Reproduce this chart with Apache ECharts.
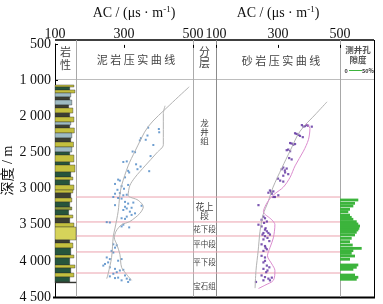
<!DOCTYPE html>
<html>
<head>
<meta charset="utf-8">
<script src="https://cdn.jsdelivr.net/npm/echarts@6/dist/echarts.min.js"></script>
<style>
html,body{margin:0;padding:0;background:#fff}
#chart{width:383px;height:304px}
</style>
</head>
<body>
<div id="chart"></div>
<script>
// depth tick labels as printed in the figure
var depthTicks = ['500', '1 000', '2 000', '2 500', '3 000', '3 500', '4 000', '4 500'];
var acTicks = [100, 300, 500];

// lithology column: layer boundaries (m), rock type, grain size (column width share)
var litDepth = [1567,1595,1636,1678,1733,1775,1844,1885,1955,2010,2079,2121,2162,2231,2300,2356,2425,2494,2536,2632,2674,2771,2840,2881,2951,3020,3061,3130,3186,3255,3296,3366,3407,3476,3532,3711,3753,3822,3919,3960,4057,4099,4168,4223,4292,4306];
var litType = [0,1,0,2,3,2,3,0,3,0,2,3,0,2,3,0,2,1,0,1,0,1,0,1,0,0,3,0,1,4,1,0,3,0,5,3,0,1,0,1,0,1,0,1,3];
var litSize = [0.9,0.7,0.95,0.75,0.7,0.8,0.65,0.85,0.7,0.9,0.75,0.7,0.92,0.8,0.75,0.88,0.8,0.7,0.9,0.7,0.95,0.75,0.85,0.7,0.9,0.85,0.75,0.8,0.7,0.8,0.65,0.85,0.7,0.9,1.0,0.7,0.85,0.75,0.9,0.7,0.95,0.75,0.9,0.7,1.0];
var litColors = ['#c4c03e', '#26553c', '#9dbac2', '#3c3f32', '#8f9b3c', '#d6d35a'];

// formation boundaries (m)
var boundaries = [3117, 3462, 3656, 3877, 4168];

// mudstone AC (us/m) vs depth (m)
var mudPoints = [
  [370,2111],[401,2130],[402,2176],[368,2222],[349,2259],[346,2291],[363,2282],[385,2356],[325,2448],[332,2457],
  [377,2512],[298,2595],[308,2587],[335,2628],[348,2660],[312,2720],[315,2743],[339,2697],[373,2725],[283,2844],
  [288,2858],[303,2812],[274,2905],[293,2937],[300,2974],[312,2919],[281,2988],[269,3089],[293,3112],[274,3043],
  [288,3034],[298,3065],[308,3057],[283,3103],[303,3158],[312,3182],[327,3168],[274,3204],[303,3227],[308,3251],
  [322,3241],[351,3213],[298,3273],[317,3296],[332,3320],[308,3366],[322,3342],[293,3389],[303,3398],[250,3444],
  [259,3449],[298,3480],[293,3504],[315,3518],[269,3757],[279,3771],[274,3804],[264,3850],[269,3873],[250,3942],
  [259,3965],[254,4012],[245,4034],[240,4057],[293,3965],[283,3988],[259,4081],[274,4103],[279,4150],[288,4126],
  [298,4117],[269,4172],[259,4209],[274,4233],[283,4227],[293,4265],[303,4196],[308,4241],[317,4255],[312,4288]
];
var mudTrend = [[489,1535],[433,1789],[370,2097],[332,2443],[312,2650],[293,2927],[288,3061],[283,3296],[274,3527],[269,3642],[264,3942],[254,4172],[250,4241]];
var mudEnvelope = [[419,1802],[414,1913],[414,2352],[395,2466],[361,2650],[332,2812],[317,2927],[312,3065],[341,3135],[356,3227],[346,3320],[317,3435],[293,3480],[277,3573],[272,3666],[279,3757],[288,3896],[293,4081],[306,4172],[322,4265]];

// sandstone AC (us/m) vs depth (m)
var sandPoints = [
  [377,2075],[387,2089],[393,2075],[382,2097],[397,2083],[409,2097],[355,2190],[366,2213],[371,2227],[380,2245],
  [360,2200],[339,2328],[349,2352],[355,2342],[344,2335],[328,2429],[339,2443],[333,2420],[344,2559],[336,2540],
  [317,2674],[328,2688],[312,2697],[323,2743],[333,2767],[317,2789],[322,2715],[307,2858],[317,2872],[300,2830],
  [274,2997],[285,3010],[269,3029],[280,3043],[290,3089],[301,3065],[285,3089],[278,3015],[237,3204],[253,3366],
  [258,3389],[247,3411],[264,3435],[237,3480],[247,3504],[255,3455],[258,3550],[264,3573],[269,3597],[253,3597],
  [274,3619],[258,3642],[266,3666],[253,3688],[272,3711],[260,3530],[250,3620],[247,3757],[258,3781],[264,3827],
  [253,3850],[260,3805],[247,3919],[258,3942],[253,4012],[264,4057],[272,4081],[253,4103],[266,4126],[258,3990],
  [247,4196],[258,4219],[269,4241],[274,4265],[253,4265],[280,4227],[229,4288],[262,4150]
];
var sandTrend = [[458,1747],[423,1913],[371,2162],[339,2439],[313,2674],[284,2951],[268,3158],[252,3338],[242,3573],[236,3850],[229,4126],[226,4375]];
var sandEnvelope = [[390,2051],[403,2121],[398,2282],[382,2443],[355,2650],[339,2812],[317,2951],[290,3043],[274,3112],[261,3200],[253,3296],[280,3411],[290,3480],[285,3666],[274,3804],[266,3919],[280,4034],[290,4126],[285,4265],[258,4334],[237,4380]];

// log porosity (%)
var poroDepth = [3158,3204,3241,3287,3320,3366,3398,3425,3458,3490,3518,3550,3573,3605,3642,3688,3735,3781,3827,3859,3896,3933,3978,4057,4089,4117,4196,4227,4255];
var poroValue = [26.9,22.1,19.6,14.7,12.2,14.7,17.2,19.6,24.6,26.9,29.4,28.4,26.9,24.6,22.1,17.2,14.7,18.7,31.9,19.6,17.2,22.1,14.7,26.9,24.6,19.6,22.1,26.9,24.6];

var SERIF = '"Liberation Serif","Noto Sans CJK SC",serif';
var CJK = '"Noto Sans CJK SC",sans-serif';

var myChart = echarts.init(document.getElementById('chart'));

function depthAxis(idx, visible) {
  var ax = {gridIndex: idx, type: 'value', min: 1000, max: 4500, interval: 500, inverse: true, show: visible};
  if (visible) {
    ax.axisLine = {show: true, lineStyle: {color: '#000', width: 1}};
    ax.axisTick = {show: true, inside: true, length: 3, lineStyle: {color: '#000'}};
    ax.axisLabel = {
      margin: 4, fontFamily: SERIF, fontSize: 14, color: '#111',
      formatter: function (v) { return depthTicks[Math.round((v - 1000) / 500)]; }
    };
    ax.splitLine = {show: false};
    ax.name = '深度 / m';
    ax.nameLocation = 'middle';
    ax.nameGap = 37;
    ax.nameTextStyle = {fontFamily: SERIF, fontSize: 14, color: '#111'};
  }
  return ax;
}

function acAxis(idx, shift) {
  return {
    gridIndex: idx, type: 'value', position: 'top', offset: 4,
    min: acTicks[0], max: acTicks[2], interval: acTicks[1] - acTicks[0],
    axisLine: {show: false},
    axisTick: {show: true, inside: true, length: 3, lineStyle: {color: '#000'}},
    axisLabel: {margin: 4, fontFamily: SERIF, fontSize: 14, color: '#111'},
    splitLine: {show: false},
    name: '{t|AC / (μs · m}{s|-1}{t|)}',
    nameLocation: 'middle', nameGap: 21,
    nameTextStyle: {
      padding: [0, 0, 0, shift],
      rich: {
        t: {fontFamily: SERIF, fontSize: 14, color: '#111', lineHeight: 16},
        s: {fontFamily: SERIF, fontSize: 9, color: '#111', verticalAlign: 'top', lineHeight: 16, padding: [0, 0, 8, 0]}
      }
    }
  };
}

function gl(x1, y1, x2, y2, color, w) {
  return {type: 'line', silent: true, shape: {x1: x1, y1: y1, x2: x2, y2: y2}, style: {stroke: color, lineWidth: w}};
}
function gt(x, y, text, size, color, weight) {
  return {type: 'text', silent: true, x: x, y: y, style: {text: text, fontSize: size, fontFamily: CJK, fontWeight: weight || 'normal', fill: color || '#444', align: 'center', verticalAlign: 'middle'}};
}

var graphics = [
  gl(55, 40, 374, 40, '#000', 1.5),
  gl(374.5, 40, 374.5, 297, '#000', 1),
  gl(53, 297.5, 375, 297.5, '#000', 2),
  gl(55, 79.5, 374, 79.5, '#bdbdbd', 1),
  gl(76.5, 40, 76.5, 297, '#a8a8a8', 1),
  gl(193.5, 40, 193.5, 297, '#ababab', 1),
  gl(216.5, 40, 216.5, 297, '#8c8c8c', 1),
  gl(340.5, 40, 340.5, 297, '#a8a8a8', 1),
  gt(65.5, 52, '岩', 11), gt(65.5, 65, '性', 11),
  gt(136, 60, '泥 岩 压 实 曲 线', 11),
  gt(204.5, 51.5, '分', 11), gt(204.5, 63, '层', 11),
  gt(281, 61, '砂 岩 压 实 曲 线', 11),
  gt(358, 50, '测井孔', 8.5, '#555', 'bold'), gt(358, 59.5, '隙度', 8.5, '#555', 'bold'),
  gt(346, 70.5, '0', 5.5, '#333', 'bold'),
  gl(349, 70.5, 362, 70.5, '#3cb43c', 1),
  gt(368, 70.5, '50%', 5.5, '#333', 'bold'),
  gt(204.5, 123, '龙', 8.5), gt(204.5, 132, '井', 8.5), gt(204.5, 141, '组', 8.5),
  gt(204.5, 207, '花上', 9), gt(204.5, 216, '段', 9),
  gt(204.5, 229, '花下段', 7.5),
  gt(204.5, 244, '平中段', 7.5),
  gt(204.5, 262, '平下段', 7.5),
  gt(204.5, 286, '宝石组', 7.5)
];

var litData = litType.map(function (t, i) { return [litDepth[i], litDepth[i + 1], litSize[i], t]; });
var poroData = poroDepth.map(function (d, i) { return [poroValue[i], d]; });

var boundarySeries = boundaries.map(function (d) {
  return {
    type: 'line', xAxisIndex: 4, yAxisIndex: 4, data: [[0, d], [1, d]],
    symbol: 'none', silent: true, lineStyle: {color: '#eba2ae', width: 1}, z: 1
  };
});

var option = {
  animation: false,
  backgroundColor: '#fff',
  grid: [
    {left: 55, width: 21, top: 44, height: 253},
    {left: 55, width: 138, top: 44, height: 253},
    {left: 216, width: 124, top: 44, height: 253},
    {left: 340, width: 34, top: 44, height: 253},
    {left: 76, width: 264, top: 44, height: 253}
  ],
  xAxis: [
    {gridIndex: 0, type: 'value', min: 0, max: 1, show: false},
    acAxis(1, 20),
    acAxis(2, 0),
    {gridIndex: 3, type: 'value', min: 0, max: 50, show: false},
    {gridIndex: 4, type: 'value', min: 0, max: 1, show: false}
  ],
  yAxis: [depthAxis(0, true), depthAxis(1, false), depthAxis(2, false), depthAxis(3, false), depthAxis(4, false)],
  graphic: graphics,
  series: [
    {
      type: 'custom', xAxisIndex: 0, yAxisIndex: 0, data: litData,
      encode: {x: 2, y: [0, 1]},
      renderItem: function (params, api) {
        var p0 = api.coord([0, api.value(0)]);
        var p1 = api.coord([api.value(2), api.value(1)]);
        return {
          type: 'rect',
          shape: {x: p0[0], y: p0[1], width: p1[0] - p0[0], height: p1[1] - p0[1]},
          style: {fill: litColors[api.value(3)], stroke: '#2a2a2a', lineWidth: 0.4}
        };
      }
    },
    {type: 'line', xAxisIndex: 1, yAxisIndex: 1, data: mudTrend, symbol: 'none', smooth: 0.3, lineStyle: {color: '#b3b3b3', width: 1}},
    {type: 'line', xAxisIndex: 1, yAxisIndex: 1, data: mudEnvelope, symbol: 'none', smooth: 0.3, lineStyle: {color: '#b3b3b3', width: 1}},
    {type: 'scatter', xAxisIndex: 1, yAxisIndex: 1, data: mudPoints, symbol: 'rect', symbolSize: 2, itemStyle: {color: '#4a86c4'}},
    {type: 'line', xAxisIndex: 2, yAxisIndex: 2, data: sandTrend, symbol: 'none', smooth: 0.3, lineStyle: {color: '#b3b3b3', width: 1}},
    {type: 'line', xAxisIndex: 2, yAxisIndex: 2, data: sandEnvelope, symbol: 'none', smooth: 0.3, lineStyle: {color: '#dc8ccf', width: 1}},
    {type: 'scatter', xAxisIndex: 2, yAxisIndex: 2, data: sandPoints, symbol: 'rect', symbolSize: 2.2, itemStyle: {color: '#5b2d9e'}},
    {
      type: 'custom', xAxisIndex: 3, yAxisIndex: 3, data: poroData,
      encode: {x: 0, y: 1},
      renderItem: function (params, api) {
        var p0 = api.coord([0, api.value(1)]);
        var p1 = api.coord([api.value(0), api.value(1)]);
        return {
          type: 'rect',
          shape: {x: p0[0], y: p0[1] - 1.4, width: p1[0] - p0[0], height: 2.8},
          style: {fill: '#3cb43c'}
        };
      }
    }
  ].concat(boundarySeries)
};

myChart.setOption(option);
</script>
</body>
</html>
